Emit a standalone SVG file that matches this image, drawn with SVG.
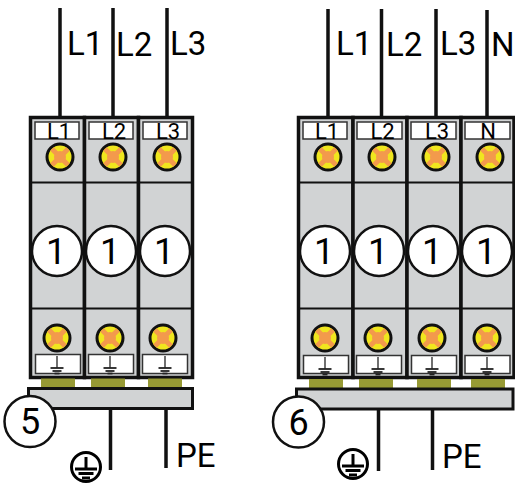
<svg xmlns="http://www.w3.org/2000/svg" xmlns:xlink="http://www.w3.org/1999/xlink" width="515" height="484" viewBox="0 0 515 484">
<style>
text{font-family:Roboto,"Liberation Sans",Arial,sans-serif;fill:#000}
.w{stroke:#111;stroke-width:3.500;fill:none}
.body{fill:#d1d3d4;stroke:#111;stroke-width:3.500}
.row{stroke:#111;stroke-width:2;fill:none}
.lab{fill:#fff;stroke:#333;stroke-width:1.500}
.big{font-size:33px}
.small{font-size:22px;text-anchor:middle}
.num{font-size:36px;text-anchor:middle}
.pad{fill:#979a34}
.bar{fill:#d1d3d4;stroke:#111;stroke-width:3}
.c{fill:#fff;stroke:#111;stroke-width:2.500}
</style>
<defs>
<g id="screw">
<circle r="13" fill="#f0e61e" stroke="#111" stroke-width="3"/>
<path d="M-8 -8L8 8M-8 8L8 -8" stroke="#f39a4c" stroke-width="5"/>
<circle r="6" fill="#f39a4c"/>
</g>
<g id="earth" stroke="#222" fill="none">
<path d="M0 -7V5" stroke-width="1.300"/>
<path d="M-6.500 5H6.500" stroke-width="1.800"/>
<path d="M-4.500 8H4.500" stroke-width="1.800"/>
<path d="M-2.500 10.500H2.500" stroke-width="1.800"/>
</g>
<g id="gnd" fill="none" stroke="#000">
<circle r="14.500" stroke-width="3"/>
<path d="M0 -10V2" stroke-width="3"/>
<path d="M-11 2H11" stroke-width="3"/>
<path d="M-7.500 6.500H7.500" stroke-width="3"/>
<path d="M-4 11H4" stroke-width="3"/>
</g>
</defs>

<g id="connectors">
<path class="w" d="M60 8V117M113 8V117M167 8V117M110.500 408V470M166 408V468"/>
<path class="w" d="M328 9V117M381.500 9V117M436 9V117M487 10V117M378.500 409V471M432.500 409V470"/>
</g>

<g id="device-5">
<rect class="body" x="30.500" y="117.500" width="54" height="260"/>
<rect class="body" x="84.500" y="117.500" width="54" height="260"/>
<rect class="body" x="138.500" y="117.500" width="54" height="260"/>
<path class="row" d="M30 182.500H192M30 308.500H192"/>
<rect class="lab" x="35" y="122" width="44" height="17"/><rect class="lab" x="89" y="122" width="44" height="17"/><rect class="lab" x="143" y="122" width="44" height="17"/>
<text class="small" x="59" y="139">L1</text><text class="small" x="114" y="139">L2</text><text class="small" x="168" y="139">L3</text>
<use xlink:href="#screw" href="#screw" x="60" y="157"/><use xlink:href="#screw" href="#screw" x="113" y="157"/><use xlink:href="#screw" href="#screw" x="167" y="157"/>
<use xlink:href="#screw" href="#screw" x="57" y="338"/><use xlink:href="#screw" href="#screw" x="110" y="338"/><use xlink:href="#screw" href="#screw" x="163" y="338"/>
<rect class="lab" x="35.500" y="354.500" width="45" height="19"/><rect class="lab" x="88.500" y="354.500" width="45" height="19"/><rect class="lab" x="142.500" y="354.500" width="45" height="19"/>
<use xlink:href="#earth" href="#earth" x="57" y="363"/><use xlink:href="#earth" href="#earth" x="110" y="363"/><use xlink:href="#earth" href="#earth" x="165" y="363"/>
<circle class="c" cx="57" cy="251" r="25"/><circle class="c" cx="111" cy="251" r="25"/><circle class="c" cx="165" cy="251" r="25"/>
<text class="num" x="56" y="264">1</text><text class="num" x="110" y="264">1</text><text class="num" x="164" y="264">1</text>
<rect class="pad" x="41" y="378.500" width="34" height="10"/><rect class="pad" x="91" y="378.500" width="34" height="10"/><rect class="pad" x="148" y="378.500" width="34" height="10"/>
<rect class="bar" x="28.500" y="388.500" width="164" height="20"/>
<circle class="c" cx="30" cy="421.500" r="25.500"/>
<text class="num" x="30" y="434">5</text>
</g>

<g id="device-6">
<rect class="body" x="298.500" y="117.500" width="54.500" height="260"/>
<rect class="body" x="353" y="117.500" width="54" height="260"/>
<rect class="body" x="407" y="117.500" width="54" height="260"/>
<rect class="body" x="461" y="117.500" width="53" height="260"/>
<path class="row" d="M298 182.500H514M298 308.500H514"/>
<rect class="lab" x="303" y="122" width="44" height="17"/><rect class="lab" x="357" y="122" width="45" height="17"/><rect class="lab" x="411" y="122" width="45" height="17"/><rect class="lab" x="465" y="122" width="45" height="17"/>
<text class="small" x="327" y="139">L1</text><text class="small" x="382.500" y="139">L2</text><text class="small" x="437" y="139">L3</text><text class="small" x="488" y="139">N</text>
<use xlink:href="#screw" href="#screw" x="328" y="157"/><use xlink:href="#screw" href="#screw" x="382" y="157"/><use xlink:href="#screw" href="#screw" x="436" y="157"/><use xlink:href="#screw" href="#screw" x="490" y="157"/>
<use xlink:href="#screw" href="#screw" x="325" y="338"/><use xlink:href="#screw" href="#screw" x="378" y="338"/><use xlink:href="#screw" href="#screw" x="432" y="338"/><use xlink:href="#screw" href="#screw" x="487" y="338"/>
<rect class="lab" x="303.500" y="355.500" width="45" height="18"/><rect class="lab" x="356.500" y="355.500" width="45" height="18"/><rect class="lab" x="411.500" y="355.500" width="45" height="18"/><rect class="lab" x="465" y="355.500" width="45" height="18"/>
<use xlink:href="#earth" href="#earth" x="325" y="364"/><use xlink:href="#earth" href="#earth" x="378" y="364"/><use xlink:href="#earth" href="#earth" x="432" y="364"/><use xlink:href="#earth" href="#earth" x="487" y="364"/>
<circle class="c" cx="325" cy="251" r="25"/><circle class="c" cx="379" cy="251" r="25"/><circle class="c" cx="433" cy="251" r="25"/><circle class="c" cx="487" cy="251" r="25"/>
<text class="num" x="324" y="264">1</text><text class="num" x="378" y="264">1</text><text class="num" x="432" y="264">1</text><text class="num" x="486" y="264">1</text>
<rect class="pad" x="309" y="379" width="34" height="9"/><rect class="pad" x="359" y="379" width="34" height="9"/><rect class="pad" x="417" y="379" width="34" height="9"/><rect class="pad" x="471" y="379" width="34" height="9"/>
<rect class="bar" x="296.500" y="389" width="216.500" height="20"/>
<circle class="c" cx="298.500" cy="422" r="25.500"/>
<text class="num" x="298.500" y="435">6</text>
</g>

<g id="labels">
<text class="big" x="67" y="55">L1</text><text class="big" x="116" y="56">L2</text><text class="big" x="170" y="55">L3</text>
<text class="big" x="336" y="55">L1</text><text class="big" x="386" y="56">L2</text><text class="big" x="440" y="55">L3</text><text class="big" x="491" y="56">N</text>
<text class="big" x="176" y="467">PE</text><text class="big" x="442" y="468">PE</text>
<use xlink:href="#gnd" href="#gnd" x="86" y="467"/><use xlink:href="#gnd" href="#gnd" x="353" y="464"/>
</g>
</svg>
